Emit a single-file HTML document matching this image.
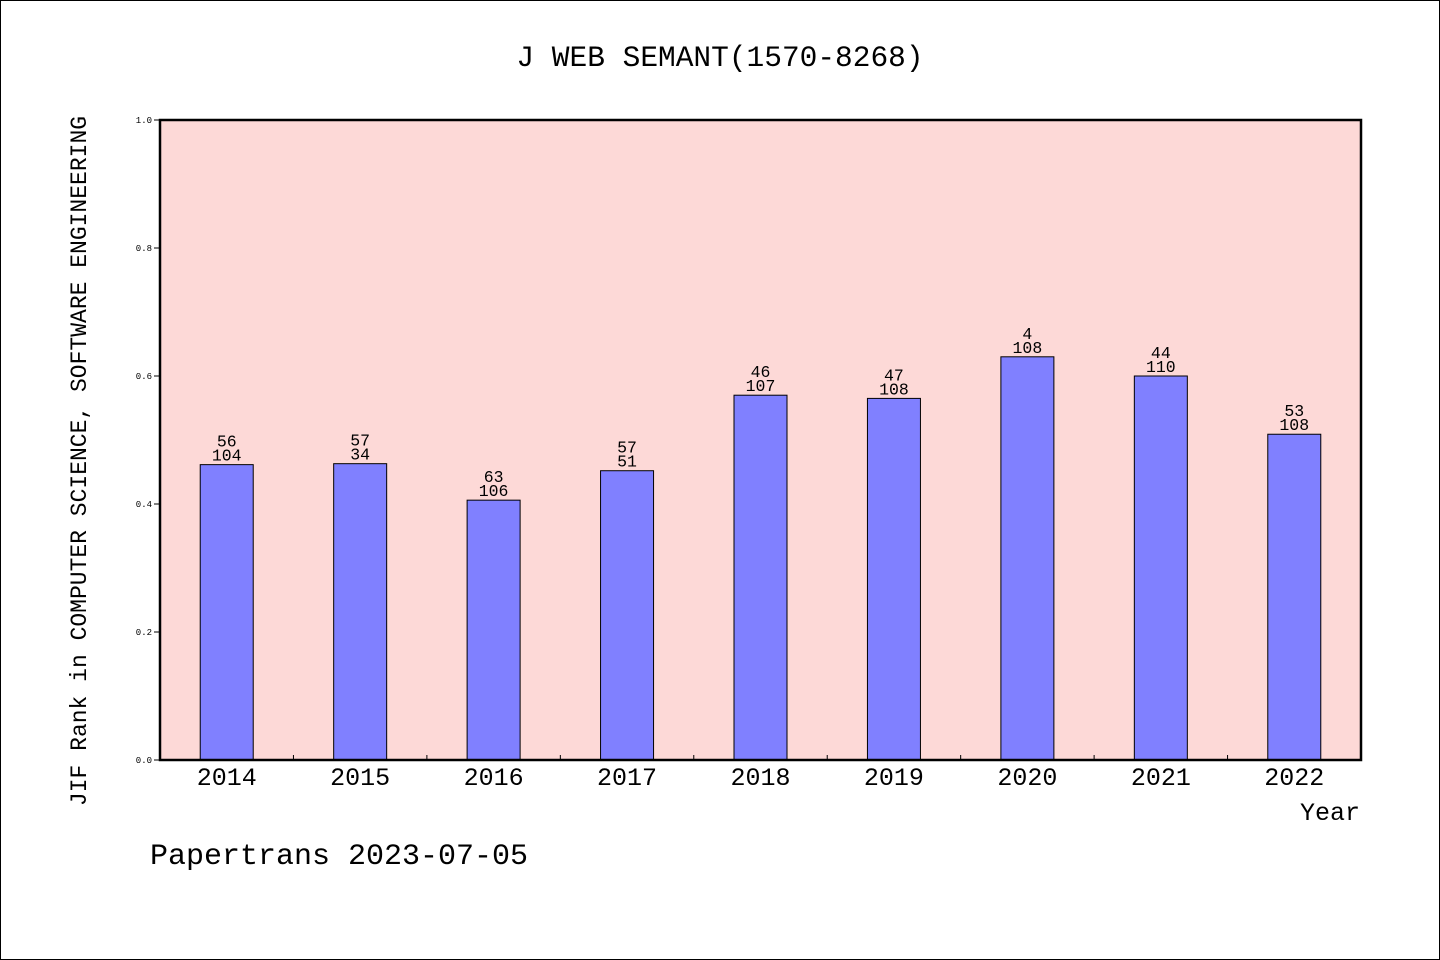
<!DOCTYPE html>
<html><head><meta charset="utf-8"><style>
html,body{margin:0;padding:0;background:#fff}
svg{display:block}
text{font-family:"Liberation Mono","DejaVu Sans Mono",monospace;fill:#000}
</style></head><body>
<svg id="chart" width="1440" height="960" viewBox="0 0 1440 960" xmlns="http://www.w3.org/2000/svg">
<rect x="0.5" y="0.5" width="1439" height="959" fill="#fff" stroke="#000" stroke-width="1"/>
<text x="720" y="66" font-size="29.5" text-anchor="middle">J WEB SEMANT(1570-8268)</text>
<rect x="160" y="120" width="1201" height="640" fill="#fdd9d7"/>
<g id="yticks"></g>
<g id="xticks"></g>
<g id="bars"></g>
<rect x="160" y="120" width="1201" height="640" fill="none" stroke="#000" stroke-width="2.5"/>
<text x="1360" y="820" font-size="25" text-anchor="end">Year</text>
<text transform="translate(86,461) rotate(-90)" font-size="23" text-anchor="middle">JIF Rank in COMPUTER SCIENCE, SOFTWARE ENGINEERING</text>
<text x="150" y="864" font-size="30">Papertrans 2023-07-05</text>
</svg>
<script>
const years = ["2014","2015","2016","2017","2018","2019","2020","2021","2022"];
const values = [0.4615, 0.463, 0.406, 0.452, 0.570, 0.565, 0.630, 0.600, 0.509];
const ranks = ["56","57","63","57","46","47","4","44","53"];
const totals = ["104","34","106","51","107","108","108","110","108"];
const yTicks = [0, 0.2, 0.4, 0.6, 0.8, 1.0];
const yTickLabels = ["0.0","0.2","0.4","0.6","0.8","1.0"];

const NS = "http://www.w3.org/2000/svg";
const X0 = 160, X1 = 1361, Y0 = 760, Y1 = 120;
const band = (X1 - X0) / years.length;
const xScale = i => X0 + band * (i + 0.5);
const yScale = v => Y0 - (Y0 - Y1) * v;
function mk(tag, attrs, parent) {
  const e = document.createElementNS(NS, tag);
  for (const k in attrs) e.setAttribute(k, attrs[k]);
  parent.appendChild(e);
  return e;
}
const gy = document.getElementById("yticks");
yTicks.forEach((t, i) => {
  const y = yScale(t);
  const l = mk("line", {x1: X0 - 6, x2: X0, y1: y, y2: y, stroke: "#000", "stroke-width": 1}, gy);
  
  
  const tx = mk("text", {x: X0 - 8, y: y + 3, "font-size": 9, "text-anchor": "end"}, gy);
  tx.textContent = yTickLabels[i];
  
  
});
const gx = document.getElementById("xticks");
for (let i = 1; i < years.length; i++) {
  const x = X0 + band * i;
  const l = mk("line", {x1: x, x2: x, y1: Y0, y2: Y0 - 5, stroke: "#000", "stroke-width": 1}, gx);
  
  
}
years.forEach((yr, i) => {
  const tx = mk("text", {x: xScale(i), y: 785, "font-size": 25, "text-anchor": "middle"}, gx);
  tx.textContent = yr;
  
  
});
const gb = document.getElementById("bars");
const bw = 53;
values.forEach((v, i) => {
  const x = xScale(i), y = yScale(v);
  const r = mk("rect", {x: x - bw / 2, y: y, width: bw, height: Y0 - y, fill: "#8080ff", stroke: "#000", "stroke-width": 1}, gb);
  
  
  const t1 = mk("text", {x: x, y: y - 18, "font-size": 16.5, "text-anchor": "middle"}, gb);
  t1.textContent = ranks[i];
  
  
  const t2 = mk("text", {x: x, y: y - 4, "font-size": 16.5, "text-anchor": "middle"}, gb);
  t2.textContent = totals[i];
  
  
});
</script>
</body></html>
